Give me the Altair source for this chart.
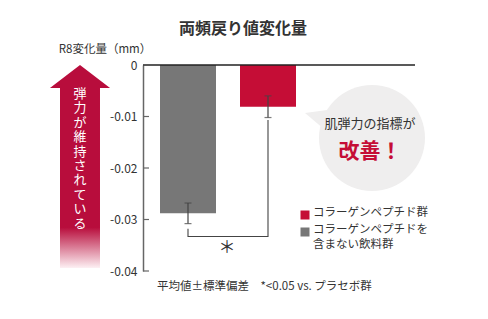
import altair as alt
import pandas as pd

# ---- data ----
groups = ["コラーゲンペプチドを含まない飲料群", "コラーゲンペプチド群"]
means = [-0.0288, -0.0081]
sds = [0.0020, 0.0021]
bar_colors = ["#777777", "#c50d36"]

y_ticks = [0, -0.01, -0.02, -0.03, -0.04]

bracket_groups = [groups[0], groups[0], groups[1], groups[1]]
bracket_y = [-0.0318, -0.0333, -0.0333, -0.0107]
star_y = -0.0355

legend_labels = [["コラーゲンペプチド群"], ["コラーゲンペプチドを", "含まない飲料群"]]
legend_colors = ["#c50d36", "#777777"]

title_text = "両頻戻り値変化量"
y_title = "R8変化量（mm）"
arrow_text = "弾力が維持されている"
bubble_line1 = "肌弾力の指標が"
bubble_line2 = "改善！"
footnote = "平均値±標準偏差　*<0.05 vs. プラセボ群"

FONT = "Noto Sans CJK JP"
LEFT = 143  # page x of y-axis

df = pd.DataFrame({"group": groups, "mean": means, "sd": sds})
df["lo"] = df["mean"] - df["sd"]
df["hi"] = df["mean"] + df["sd"]

yscale = alt.Scale(domain=[-0.04, 0], range=[271, 65], nice=False, zero=False)
xscale = alt.Scale(domain=groups, range=[0, 170], paddingInner=0.3, paddingOuter=0.2125)

X = alt.X("group:N", scale=xscale, axis=None, sort=groups)

bars = alt.Chart(df).mark_bar(opacity=1).encode(
    x=X,
    y=alt.Y("mean:Q", scale=yscale, axis=alt.Axis(
        values=y_ticks, ticks=False, labelPadding=6, domainColor="#666666",
        domainWidth=1.5, grid=False, title=None, labelFont=FONT, labelFontSize=12,
        labelColor="#333333",
        labelExpr="datum.value == 0 ? '0' : replace(format(datum.value, '.2f'), '\u2212', '-')")),
    y2=alt.datum(0),
    color=alt.Color("group:N", scale=alt.Scale(domain=groups, range=bar_colors), legend=None),
)

err = alt.Chart(df).mark_rule(color="#444444", strokeWidth=1.2).encode(
    x=X, y=alt.Y("lo:Q", scale=yscale), y2="hi:Q")
caps_lo = alt.Chart(df).mark_tick(color="#444444", size=7, thickness=1.2).encode(
    x=X, y=alt.Y("lo:Q", scale=yscale))
caps_hi = alt.Chart(df).mark_tick(color="#444444", size=7, thickness=1.2).encode(
    x=X, y=alt.Y("hi:Q", scale=yscale))

bdf = pd.DataFrame({"group": bracket_groups, "y": bracket_y, "o": list(range(len(bracket_y)))})
bracket = alt.Chart(bdf).mark_line(color="#444444", strokeWidth=1.1).encode(
    x=X, y=alt.Y("y:Q", scale=yscale), order="o:Q")

star = alt.Chart(pd.DataFrame({"a": [0]})).mark_text(
    text="＊", font=FONT, fontSize=17, color="#333333", baseline="middle").encode(
    x=alt.value(84), y=alt.datum(star_y))

tdf = pd.DataFrame({"v": y_ticks[1:]})
ticks = alt.Chart(tdf).mark_rule(color="#666666", strokeWidth=1.2).encode(
    x=alt.value(0), x2=alt.value(6), y=alt.Y("v:Q", scale=yscale))

zero_line = alt.Chart(pd.DataFrame({"a": [0]})).mark_rule(color="#222222", strokeWidth=1.3).encode(
    x=alt.value(0), x2=alt.value(272), y=alt.datum(0))

one = pd.DataFrame({"a": [0]})

# arrow
arrow_path = "M0,-1L0.296,-0.773L0.197,-0.773L0.197,1L-0.197,1L-0.197,-0.773L-0.296,-0.773Z"
grad = alt.LinearGradient(
    gradient="linear",
    stops=[alt.GradientStop(color="#b80d3c", offset=0),
           alt.GradientStop(color="#b80d3c", offset=0.8),
           alt.GradientStop(color="#fdf0f3", offset=1)],
    x1=0, x2=0, y1=0, y2=1)
arrow = alt.Chart(one).mark_point(shape=arrow_path, size=203 * 203, filled=True,
                                  fill=grad, strokeWidth=0, opacity=1).encode(
    x=alt.value(80 - LEFT), y=alt.value(166.5))
arrow_txt = alt.Chart(one).mark_text(
    text=list(arrow_text), font=FONT, fontSize=13, color="white",
    lineHeight=14.4, baseline="top", align="center").encode(
    x=alt.value(80 - LEFT), y=alt.value(88))

# bubble
bubble = alt.Chart(one).mark_point(shape="circle", size=106 * 106, filled=True,
                                   color="#efeeee", opacity=1, strokeWidth=0).encode(
    x=alt.value(372 - LEFT), y=alt.value(138))
tail = alt.Chart(one).mark_point(
    shape="M-1,-0.2L0.1,-0.35L0.3,0.9Z", size=40 * 40, filled=True,
    color="#efeeee", opacity=1, strokeWidth=0).encode(
    x=alt.value(325 - LEFT), y=alt.value(117))
b1 = alt.Chart(one).mark_text(text=bubble_line1, font=FONT, fontSize=13, color="#333333").encode(
    x=alt.value(370 - LEFT), y=alt.value(124))
b2 = alt.Chart(one).mark_text(text=bubble_line2, font=FONT, fontSize=21, fontWeight="bold",
                              color="#c50d36").encode(
    x=alt.value(370 - LEFT), y=alt.value(152))

# legend
leg_layers = []
row_y = [215, 232]
for lbl, col, yy in zip(legend_labels, legend_colors, row_y):
    leg_layers.append(alt.Chart(one).mark_square(size=81, color=col, opacity=1).encode(
        x=alt.value(305 - LEFT), y=alt.value(yy)))
    leg_layers.append(alt.Chart(one).mark_text(
        text=lbl if len(lbl) > 1 else lbl[0], font=FONT, fontSize=11.5, color="#333333",
        align="left", baseline="top", lineHeight=15).encode(
        x=alt.value(313 - LEFT), y=alt.value(yy - 8)))

title = alt.Chart(one).mark_text(text=title_text, font=FONT, fontSize=16, fontWeight="bold",
                                 color="#333333").encode(
    x=alt.value(243 - LEFT), y=alt.value(29))
ytitle = alt.Chart(one).mark_text(text=y_title, font=FONT, fontSize=11.5, color="#333333",
                                  align="center").encode(
    x=alt.value(105 - LEFT), y=alt.value(50))
foot = alt.Chart(one).mark_text(text=footnote, font=FONT, fontSize=11.5, color="#333333",
                                align="left").encode(
    x=alt.value(157 - LEFT), y=alt.value(287))

chart = alt.layer(
    arrow, arrow_txt, bubble, tail, b1, b2,
    bars, err, caps_lo, caps_hi, bracket, star, ticks, zero_line,
    *leg_layers, title, ytitle, foot,
).properties(
    width=488 - LEFT, height=319,
    autosize=alt.AutoSizeParams(type="none"),
    padding={"left": LEFT, "top": 0, "right": 0, "bottom": 0},
).configure(background="white").configure_view(stroke=None)

chart.save("out.html", embed_options={"renderer": "svg", "actions": False})
